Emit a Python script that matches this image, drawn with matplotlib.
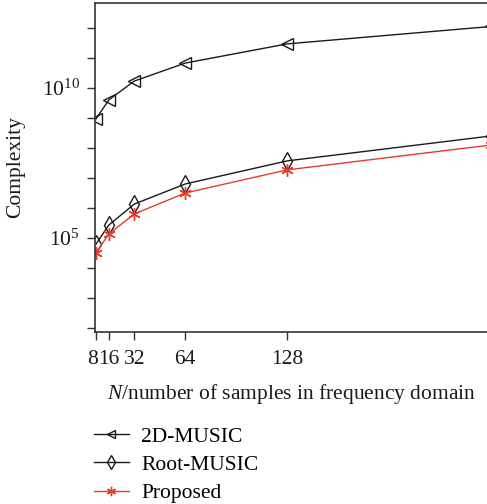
import matplotlib
matplotlib.use("Agg")
import matplotlib.pyplot as plt
import matplotlib.transforms as mtransforms
from matplotlib.ticker import FixedLocator, FixedFormatter, NullLocator

plt.rcParams['font.family'] = ['Liberation Serif', 'DejaVu Serif']
plt.rcParams['mathtext.fontset'] = 'custom'
plt.rcParams['mathtext.rm'] = 'Liberation Serif'
plt.rcParams['mathtext.it'] = 'Liberation Serif:italic'

# Data
N = [8, 16, 32, 64, 128, 256]
music2d = [10**8.97, 10**9.60, 10**10.23, 10**10.83, 10**11.47, 10**12.05]
rootmusic = [10**4.80, 10**5.43, 10**6.13, 10**6.80, 10**7.57, 10**8.40]
proposed = [10**4.50, 10**5.13, 10**5.80, 10**6.50, 10**7.27, 10**8.10]
xticks = [8, 16, 32, 64, 128]
xticklabels = ['8', '16', '32', '64', '128']

FS = 15.5
W, H = 487, 504
fig = plt.figure(figsize=(W/100, H/100), dpi=100)
ax = fig.add_axes([95/W, (H-332)/H, (W-95)/W, 329/H])

red = '#e53b2c'
l1, = ax.plot(N, music2d, color='#1a1a1a', lw=1.0, marker='<', ms=8, mfc='none', mec='#1a1a1a', mew=1.0, label='2D-MUSIC')
l2, = ax.plot(N, rootmusic, color='#1a1a1a', lw=1.0, marker='d', ms=9, mfc='none', mec='#1a1a1a', mew=1.0, label='Root-MUSIC')
l3, = ax.plot(N, proposed, color=red, lw=1.0, marker=(6, 2, 0), ms=9, mec=red, mew=1.0, label='Proposed')

ax.set_yscale('log')
ax.set_xlim(7.37, 253.6)
ax.set_ylim(10**1.867, 10**12.833)

ax.xaxis.set_major_locator(FixedLocator(xticks))
ax.xaxis.set_major_formatter(FixedFormatter(xticklabels))
ax.xaxis.set_minor_locator(NullLocator())
yt = [10**k for k in range(2, 13)]
ylab = [r'$10^{5}$' if k == 5 else (r'$10^{10}$' if k == 10 else '') for k in range(2, 13)]
ax.yaxis.set_major_locator(FixedLocator(yt))
ax.yaxis.set_major_formatter(FixedFormatter(ylab))
ax.yaxis.set_minor_locator(NullLocator())

ax.tick_params(axis='both', direction='out', length=6, width=1.0, labelsize=FS, color='#333333', labelcolor='#1a1a1a')
ax.tick_params(axis='x', pad=7)
ax.tick_params(axis='y', pad=5)
for s in ['left', 'bottom', 'top']:
    ax.spines[s].set_linewidth(1.2)
    ax.spines[s].set_color('#333333')
ax.spines['right'].set_visible(False)

# nudge the "8" label slightly left so it does not collide with "16"
fig.canvas.draw()
xl = ax.get_xticklabels()
xl[0].set_transform(xl[0].get_transform() + mtransforms.ScaledTranslation(-3/100, 0, fig.dpi_scale_trans))

ax.set_xlabel(r'$\mathit{N}$/number of samples in frequency domain', fontsize=FS, color='#1a1a1a', labelpad=9)
ax.set_ylabel('Complexity', fontsize=FS, color='#1a1a1a', labelpad=12)

leg = fig.legend(handles=[l1, l2, l3], loc='upper left', bbox_to_anchor=(85/W, 1 - 418/H),
                 frameon=False, fontsize=FS, handlelength=1.65, handletextpad=0.55,
                 labelspacing=0.38, markerscale=0.75, borderaxespad=0)

fig.savefig('out.png', dpi=100)
